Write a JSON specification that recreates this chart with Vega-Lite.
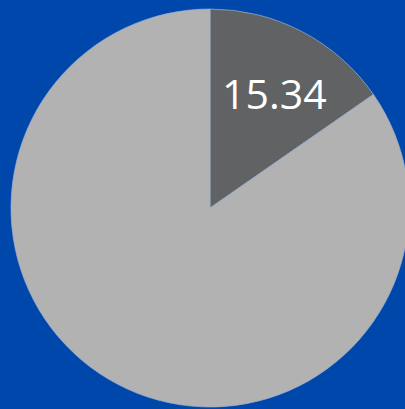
{
  "$schema": "https://vega.github.io/schema/vega-lite/v6.json",
  "autosize": "none",
  "padding": 0,
  "width": 420,
  "height": 416,
  "background": "#0047AB",
  "config": {"view": {"stroke": null}},
  "data": {"values": [
    {"category": "A", "value": 15.34, "order": 1},
    {"category": "B", "value": 84.66, "order": 2}
  ]},
  "encoding": {
    "theta": {"field": "value", "type": "quantitative", "stack": true},
    "order": {"field": "order", "type": "quantitative"}
  },
  "layer": [
    {
      "mark": {"type": "arc", "outerRadius": 199, "stroke": "#9DB0D0", "strokeWidth": 0.7},
      "encoding": {
        "color": {"field": "category", "type": "nominal", "scale": {"domain": ["A", "B"], "range": ["#616264", "#B2B2B2"]}, "legend": null}
      }
    },
    {
      "transform": [{"filter": "datum.category == 'A'"}],
      "mark": {"type": "text", "radius": 115, "dx": 11, "dy": -9, "font": "Open Sans", "fontSize": 41, "color": "white"},
      "encoding": {
        "text": {"field": "value", "type": "quantitative", "format": ".2f"}
      }
    }
  ]
}
